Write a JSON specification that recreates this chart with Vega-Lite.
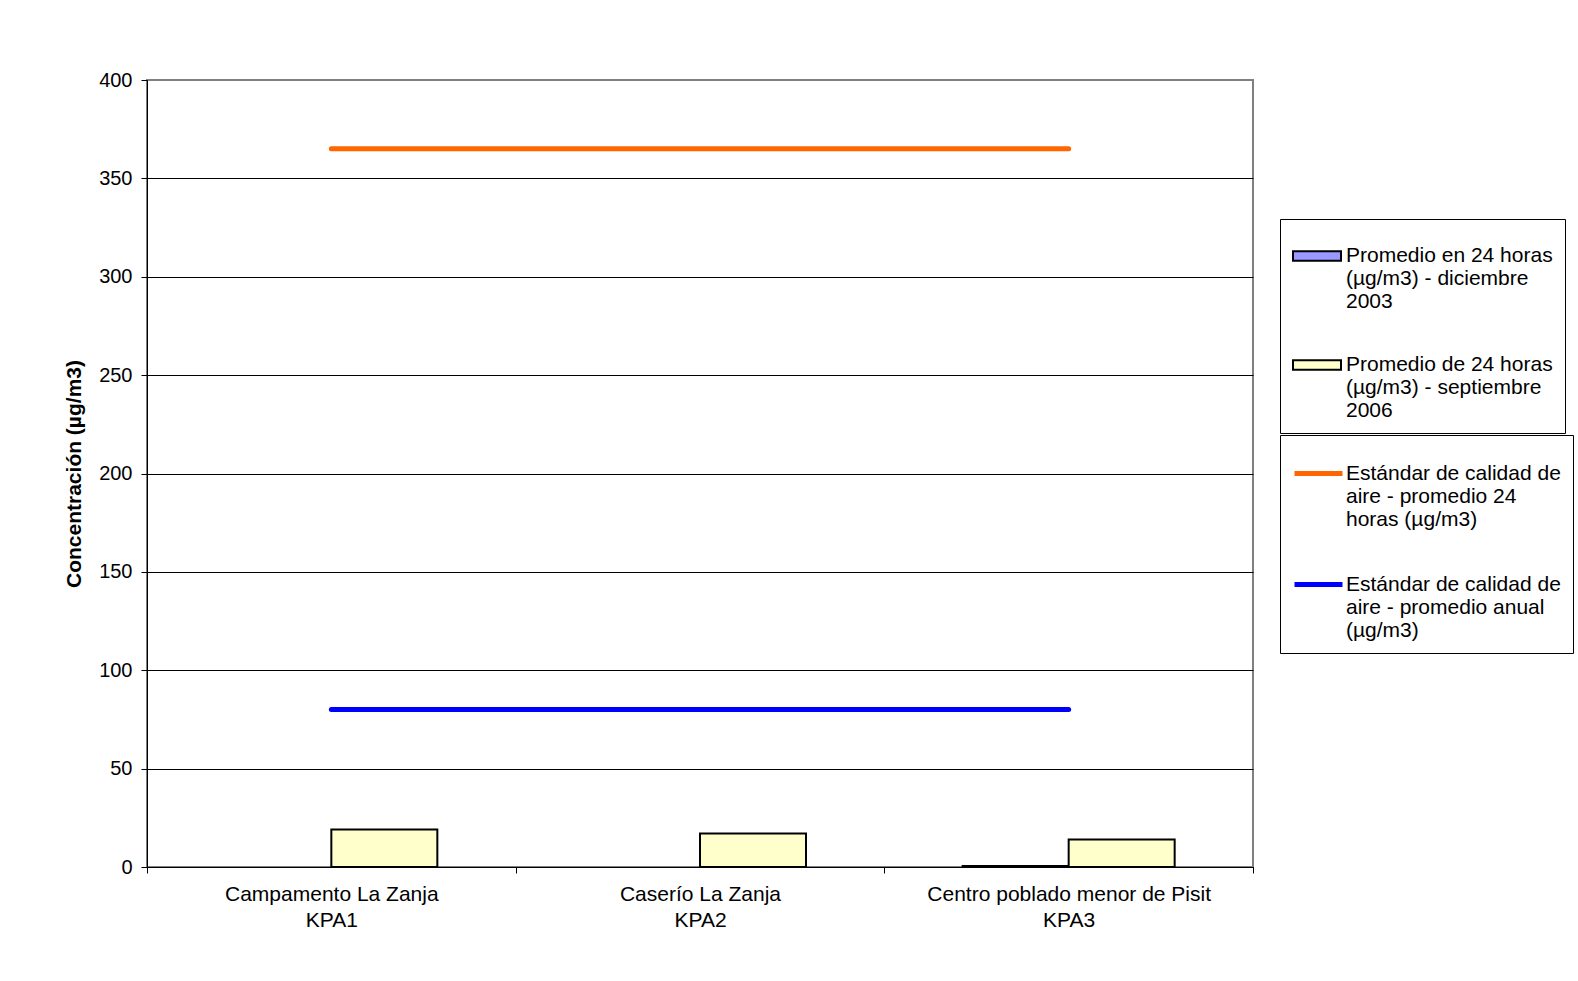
{
  "$schema": "https://vega.github.io/schema/vega-lite/v6.json",
  "width": 1106,
  "height": 787,
  "autosize": {"type": "none"},
  "padding": {"left": 147, "top": 80, "right": 325, "bottom": 114},
  "background": "white",
  "config": {
    "font": "Liberation Sans",
    "view": {"stroke": "#808080", "strokeWidth": 2},
    "legend": {
      "title": null, "orient": "none", "padding": 12, "strokeColor": "black", "fillColor": "white",
      "labelFontSize": 21, "labelColor": "black", "labelLimit": 0,
      "rowPadding": 28, "symbolSize": 2304
    }
  },
  "datasets": {
    "bars": [
      {"site": "Campamento La Zanja|KPA1", "series": "Promedio de 24 horas|(µg/m3) - septiembre|2006", "value": 19},
      {"site": "Caserío La Zanja|KPA2", "series": "Promedio de 24 horas|(µg/m3) - septiembre|2006", "value": 17},
      {"site": "Centro poblado menor de Pisit|KPA3", "series": "Promedio en 24 horas|(µg/m3) - diciembre|2003", "value": 0.5},
      {"site": "Centro poblado menor de Pisit|KPA3", "series": "Promedio de 24 horas|(µg/m3) - septiembre|2006", "value": 14}
    ],
    "lines": [
      {"site": "Campamento La Zanja|KPA1", "series": "Estándar de calidad de|aire - promedio 24|horas (µg/m3)", "value": 365},
      {"site": "Caserío La Zanja|KPA2", "series": "Estándar de calidad de|aire - promedio 24|horas (µg/m3)", "value": 365},
      {"site": "Centro poblado menor de Pisit|KPA3", "series": "Estándar de calidad de|aire - promedio 24|horas (µg/m3)", "value": 365},
      {"site": "Campamento La Zanja|KPA1", "series": "Estándar de calidad de|aire - promedio anual|(µg/m3)", "value": 80},
      {"site": "Caserío La Zanja|KPA2", "series": "Estándar de calidad de|aire - promedio anual|(µg/m3)", "value": 80},
      {"site": "Centro poblado menor de Pisit|KPA3", "series": "Estándar de calidad de|aire - promedio anual|(µg/m3)", "value": 80}
    ]
  },
  "layer": [
    {
      "data": {"name": "bars"},
      "mark": {"type": "bar", "stroke": "black", "strokeWidth": 2},
      "encoding": {
        "x": {
          "field": "site", "type": "nominal", "sort": null,
          "scale": {"domain": ["Campamento La Zanja|KPA1", "Caserío La Zanja|KPA2", "Centro poblado menor de Pisit|KPA3"], "paddingInner": 0, "paddingOuter": 0},
          "axis": {
            "title": null, "labelAngle": 0, "labelFontSize": 21, "labelColor": "black",
            "labelExpr": "split(datum.label, '|')", "labelLineHeight": 26, "labelBaseline": "top",
            "tickBand": "extent", "tickSize": 6, "tickColor": "black", "domainColor": "black",
            "labelPadding": 10, "labelLimit": 0
          }
        },
        "xOffset": {
          "field": "series", "type": "nominal", "sort": null,
          "scale": {"domain": ["Promedio en 24 horas|(µg/m3) - diciembre|2003", "Promedio de 24 horas|(µg/m3) - septiembre|2006"], "paddingOuter": 0.739, "paddingInner": 0}
        },
        "y": {
          "field": "value", "type": "quantitative",
          "scale": {"domain": [0, 400], "nice": false},
          "axis": {
            "title": "Concentración (µg/m3)", "titleFontSize": 21, "titleFontWeight": "bold", "titleColor": "black",
            "labelFontSize": 20, "labelColor": "black", "tickColor": "black", "tickSize": 6,
            "domainColor": "black", "values": [0, 50, 100, 150, 200, 250, 300, 350, 400],
            "grid": true, "gridOpacity": 1, "gridWidth": 1,
            "gridColor": {"condition": {"test": "datum.value == 400", "value": "#808080"}, "value": "black"},
            "labelPadding": 9, "titlePadding": 14
          }
        },
        "fill": {
          "field": "series", "type": "nominal",
          "scale": {
            "domain": ["Promedio en 24 horas|(µg/m3) - diciembre|2003", "Promedio de 24 horas|(µg/m3) - septiembre|2006"],
            "range": ["#9999FF", "#FFFFCC"]
          },
          "legend": {
            "legendX": 1133, "legendY": 139,
            "labelExpr": "split(datum.label, '|')", "labelOffset": 4,
            "symbolType": "M-1,-0.2H1V0.2H-1Z",
            "symbolStrokeColor": "black", "symbolStrokeWidth": 2, "symbolOpacity": 1
          }
        }
      }
    },
    {
      "data": {"name": "lines"},
      "mark": {"type": "line", "strokeWidth": 5, "strokeCap": "round"},
      "encoding": {
        "x": {"field": "site", "type": "nominal", "sort": null, "bandPosition": 0.5},
        "y": {"field": "value", "type": "quantitative"},
        "stroke": {
          "field": "series", "type": "nominal",
          "scale": {
            "domain": ["Estándar de calidad de|aire - promedio 24|horas (µg/m3)", "Estándar de calidad de|aire - promedio anual|(µg/m3)"],
            "range": ["#FF6600", "#0000FF"]
          },
          "legend": {
            "legendX": 1133, "legendY": 355,
            "labelExpr": "split(datum.label, '|')", "labelOffset": 1,
            "symbolType": "stroke", "symbolStrokeWidth": 5, "symbolOpacity": 1
          }
        }
      }
    }
  ]
}
